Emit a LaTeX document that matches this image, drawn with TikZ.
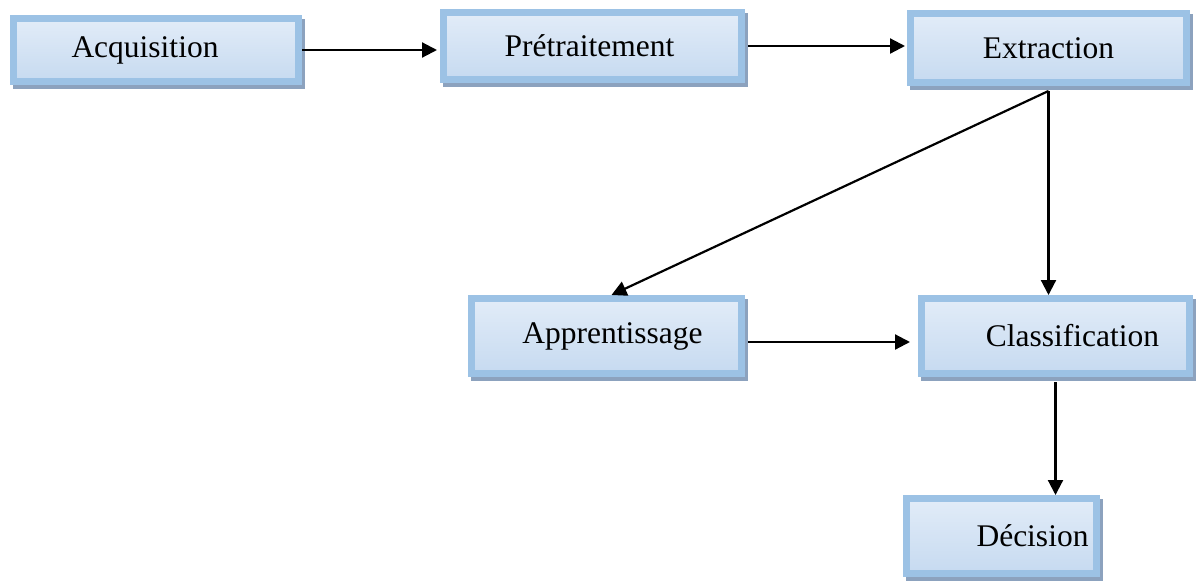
\documentclass[tikz,border=0pt]{standalone}
\usepackage{fontspec}
\setmainfont{Liberation Serif}
\usetikzlibrary{arrows.meta,calc}
\definecolor{bordc}{RGB}{156,194,229}
\definecolor{shadc}{RGB}{140,162,190}
\definecolor{topc}{RGB}{226,236,248}
\definecolor{botc}{RGB}{198,218,240}
\tikzset{
  box/.style={draw=bordc, line width=7pt, top color=topc, bottom color=botc,
    preaction={draw=shadc, fill=shadc, transform canvas={xshift=3pt,yshift=-4pt}},
    inner sep=0pt},
  lbl/.style={font=\fontsize{31.5}{36}\selectfont, text=black, inner sep=0pt},
  conn/.style={line width=2.2pt, -{Triangle[length=15pt,width=15pt]}}
}
\begin{document}
\begin{tikzpicture}[x=1pt,y=-1pt]
\useasboundingbox (0,0) rectangle (1197,581);
\node[box, minimum width=285pt, minimum height=63pt, label={[lbl,xshift=-11pt]center:Acquisition}] (acq) at (156,50) {};
\node[box, minimum width=298pt, minimum height=67pt, label={[lbl,xshift=-3pt]center:Prétraitement}] (pre) at (592.5,46) {};
\node[box, minimum width=276pt, minimum height=69pt, label={[lbl]center:Extraction}] (ext) at (1048.5,48) {};
\node[box, minimum width=270pt, minimum height=75pt, label={[lbl,xshift=6pt]center:Apprentissage}] (app) at (606.5,336) {};
\node[box, minimum width=268pt, minimum height=75pt, label={[lbl,xshift=17pt]center:Classification}] (cla) at (1055.5,336) {};
\node[box, minimum width=190pt, minimum height=75pt, label={[lbl,xshift=31pt]center:Décision}] (dec) at (1001.5,536) {};
\coordinate (es) at ([yshift=-5pt]ext.south);
\coordinate (cs) at ([yshift=-5pt]cla.south);
\draw[conn, shorten >=3pt] (acq.east) -- (acq.east -| pre.west);
\draw[conn, shorten >=2pt] ([xshift=3pt]pre.east) -- (pre.east -| ext.west);
\draw[conn] (es) -- (es |- cla.north);
\draw[conn] (es) -- ([xshift=5pt]app.north);
\draw[conn, shorten >=8pt] ([xshift=3pt,yshift=-6pt]app.east) -- ([yshift=-6pt]app.east -| cla.west);
\draw[conn] (cs) -- (cs |- dec.north);
\end{tikzpicture}
\end{document}
